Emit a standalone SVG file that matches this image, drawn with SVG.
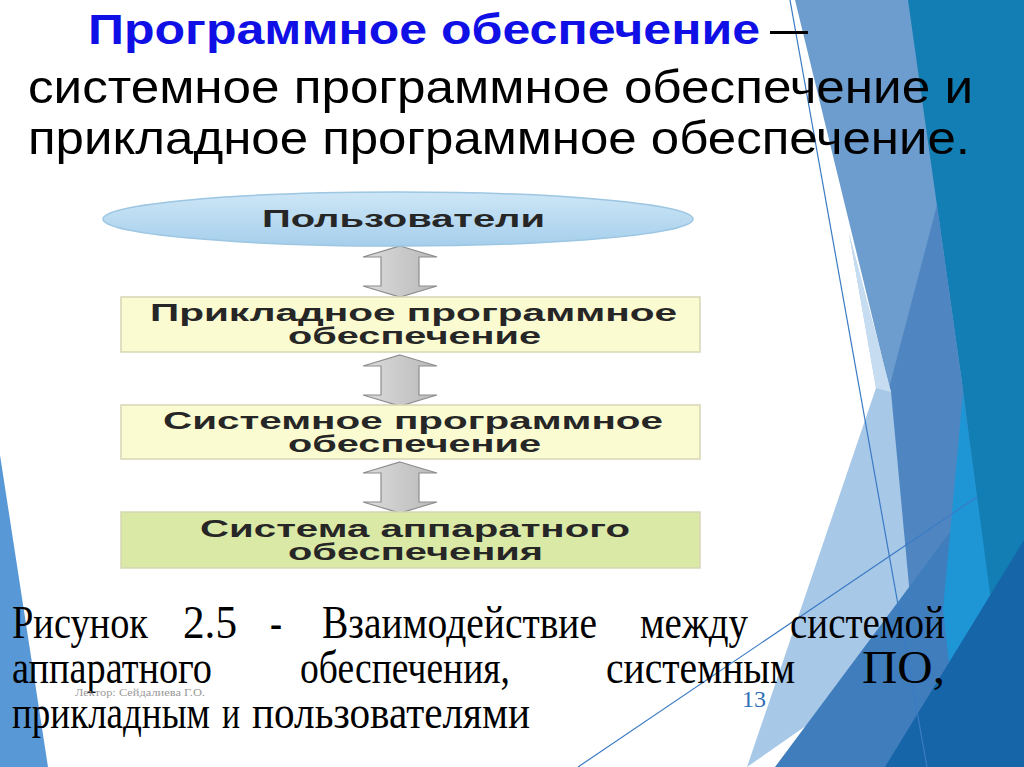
<svg xmlns="http://www.w3.org/2000/svg" width="1024" height="767" viewBox="0 0 1024 767">
<defs>
<style>
.title{font-family:"Liberation Sans",Arial,sans-serif;font-size:46px;fill:#000}
.tb{font-family:"Liberation Sans",Arial,sans-serif;font-size:42px;font-weight:bold;fill:#1010e6}
.lbl{font-family:"Liberation Sans",Arial,sans-serif;font-size:24px;font-weight:bold;fill:#262626}
.cap{font-family:"Liberation Serif","Times New Roman",serif;font-size:46px;fill:#000}
.box{stroke:#d6d6b4;stroke-width:1.5}
.arr{fill:url(#ga);stroke:#8c8c8c;stroke-width:1.2}
.ln{stroke:#3b7bc4;stroke-width:1.2;fill:none}
</style>
<linearGradient id="ge" x1="0" y1="0" x2="0" y2="1">
<stop offset="0" stop-color="#cde6f6"/><stop offset="1" stop-color="#a6cfec"/>
</linearGradient>
<linearGradient id="ga" x1="0" y1="0" x2="1" y2="0">
<stop offset="0" stop-color="#dcdcdc"/><stop offset="1" stop-color="#b9b9b9"/>
</linearGradient>
</defs>
<rect width="1024" height="767" fill="#ffffff"/>
<g id="background">
<polygon points="0,455 0,767 48,767" fill="#5898d6"/>
<polygon points="795,0 940,0 990,767 900,767 890,390" fill="#6c9dce"/>
<polygon points="908,0 1024,0 1024,767 955,767 963,390" fill="#137eb3"/>
<polygon points="937,205 963,390 990,600 900,610 888,392" fill="#4f86c2"/>
<polygon points="849,233 891,392 915,650 747,767 876,388" fill="#a8c8e8"/>
<polygon points="849,233 891,392 876,388" fill="#c6dcf0"/>
<polygon points="775,767 965,512 950,767" fill="#3f7dbd"/>
<polygon points="963,392 1003,690 958,740 943,610 955,480" fill="#1e96d6"/>
<polygon points="1024,540 885,767 1024,767" fill="#1565a8"/>
<line class="ln" x1="790" y1="0" x2="927" y2="767"/>
<line class="ln" x1="578" y1="767" x2="977" y2="497"/>
</g>
<g id="title">
<text class="tb" x="88" y="44" textLength="672" lengthAdjust="spacingAndGlyphs">Программное обеспечение</text>
<text class="title" x="770" y="44" font-size="42" textLength="38" lengthAdjust="spacingAndGlyphs">–</text>
<text class="title" x="28" y="103" textLength="945" lengthAdjust="spacingAndGlyphs">системное программное обеспечение и</text>
<text class="title" x="28" y="154" textLength="942" lengthAdjust="spacingAndGlyphs">прикладное программное обеспечение.</text>
</g>
<g id="connectors">
<path class="arr" d="M400,246 L437,257 L419,257 L419,286 L437,286 L400,297 L363,286 L381,286 L381,257 L363,257 Z"/>
<path class="arr" d="M400,355 L437,366 L419,366 L419,395 L437,395 L400,406 L363,395 L381,395 L381,366 L363,366 Z"/>
<path class="arr" d="M400,462 L437,473 L419,473 L419,502 L437,502 L400,513 L363,502 L381,502 L381,473 L363,473 Z"/>
</g>
<g id="users">
<ellipse cx="398" cy="219" rx="295" ry="27" fill="url(#ge)" stroke="#9cc6e2" stroke-width="1.5"/>
<text class="lbl" x="262" y="227" textLength="283" lengthAdjust="spacingAndGlyphs">Пользователи</text>
</g>
<g id="applied">
<rect class="box" x="121" y="297" width="579" height="55" fill="#fbfbd2"/>
<text class="lbl" x="150" y="321" textLength="527" lengthAdjust="spacingAndGlyphs">Прикладное программное</text>
<text class="lbl" x="288" y="344" textLength="253" lengthAdjust="spacingAndGlyphs">обеспечение</text>
</g>
<g id="system">
<rect class="box" x="121" y="405" width="579" height="54" fill="#fbfbd2"/>
<text class="lbl" x="163" y="429" textLength="500" lengthAdjust="spacingAndGlyphs">Системное программное</text>
<text class="lbl" x="288" y="452" textLength="253" lengthAdjust="spacingAndGlyphs">обеспечение</text>
</g>
<g id="hardware">
<rect class="box" x="121" y="512" width="579" height="56" fill="#dbe9a6" stroke="#c4d29a"/>
<text class="lbl" x="200" y="537" textLength="430" lengthAdjust="spacingAndGlyphs">Система аппаратного</text>
<text class="lbl" x="288" y="560" textLength="255" lengthAdjust="spacingAndGlyphs">обеспечения</text>
</g>
<g id="caption">
<text class="cap" x="12" y="638" textLength="136" lengthAdjust="spacingAndGlyphs">Рисунок</text>
<text class="cap" x="183" y="638" textLength="54" lengthAdjust="spacingAndGlyphs">2.5</text>
<text class="cap" x="270" y="638" textLength="12" lengthAdjust="spacingAndGlyphs">-</text>
<text class="cap" x="322" y="638" textLength="275" lengthAdjust="spacingAndGlyphs">Взаимодействие</text>
<text class="cap" x="640" y="638" textLength="108" lengthAdjust="spacingAndGlyphs">между</text>
<text class="cap" x="790" y="638" textLength="155" lengthAdjust="spacingAndGlyphs">системой</text>
<text class="cap" x="12" y="683" textLength="200" lengthAdjust="spacingAndGlyphs">аппаратного</text>
<text class="cap" x="300" y="683" textLength="210" lengthAdjust="spacingAndGlyphs">обеспечения,</text>
<text class="cap" x="606" y="683" textLength="189" lengthAdjust="spacingAndGlyphs">системным</text>
<text class="cap" x="862" y="683" textLength="83" lengthAdjust="spacingAndGlyphs">ПО,</text>
<text class="cap" x="12" y="728" textLength="198" lengthAdjust="spacingAndGlyphs">прикладным</text>
<text class="cap" x="222" y="728" textLength="18" lengthAdjust="spacingAndGlyphs">и</text>
<text class="cap" x="252" y="728" textLength="278" lengthAdjust="spacingAndGlyphs">пользователями</text>
</g>
<g id="footer">
<text x="75" y="696" font-family="Liberation Serif, serif" font-size="11" fill="#9a9a9a" textLength="130" lengthAdjust="spacingAndGlyphs">Лектор: Сейдалиева Г.О.</text>
<text x="742" y="707" font-family="Liberation Serif, serif" font-size="24" fill="#2f6fb8">13</text>
</g>
</svg>
